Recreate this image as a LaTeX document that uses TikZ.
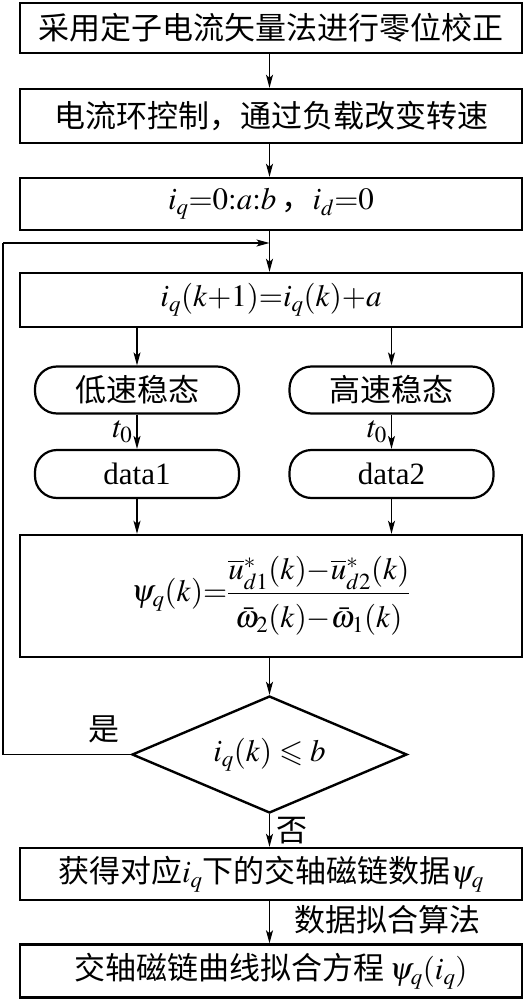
\documentclass[tikz,border=0pt]{standalone}
\usepackage{amsmath,amssymb}
\usepackage{mathptmx}
\usepackage{fontspec}
\setmainfont{Liberation Serif}
\newfontfamily\cjk{Noto Sans CJK SC}
\usetikzlibrary{shapes.geometric,arrows.meta}
\tikzset{
  box/.style={draw, line width=2.4pt, minimum width=502pt, inner sep=0pt, font=\fontsize{31}{36}\selectfont},
  pill/.style={draw, line width=2.2pt, minimum width=204pt, minimum height=47pt, rounded corners=22pt, inner sep=0pt, font=\fontsize{31}{36}\selectfont},
  dec/.style={draw, diamond, line width=2.4pt, minimum width=275pt, minimum height=117pt, aspect=2.35, inner sep=0pt, font=\fontsize{31}{36}\selectfont},
  arr/.style={line width=1.3pt, -{Stealth[length=13pt,width=7pt,inset=3pt]}},
  lbl/.style={font=\fontsize{31}{36}\selectfont, inner sep=0pt}
}
\begin{document}
\begin{tikzpicture}[x=1pt,y=-1pt]
\useasboundingbox (0,0) rectangle (526,1000);
\node[box, minimum height=50pt] (b1) at (271,28) {\cjk 采用定子电流矢量法进行零位校正};
\node[box, minimum height=54pt] (b2) at (271,116) {\cjk 电流环控制，通过负载改变转速};
\node[box, minimum height=52pt] (b3) at (271,204) {$i_q{=}0{:}a{:}b$\,{\cjk ，}$i_d{=}0$};
\node[box, minimum height=54pt] (b4) at (271,300) {$i_q(k{+}1){=}i_q(k){+}a$};
\node[pill] (r1) at (137,390) {\cjk 低速稳态};
\node[pill] (r2) at (391.5,390) {\cjk 高速稳态};
\node[pill, minimum height=48pt] (d1) at (137,474) {data1};
\node[pill, minimum height=48pt] (d2) at (391.5,474) {data2};
\node[box, minimum height=122pt] (f) at (271,596) {$\psi_q(k){=}\dfrac{\rule[-8pt]{0pt}{8pt}\overline{u}^*_{d1}(k){-}\overline{u}^*_{d2}(k)}{\rule{0pt}{30pt}\bar{\omega}_2(k){-}\bar{\omega}_1(k)}$};
\node[dec] (c) at (269.5,754.5) {$i_q(k)\leqslant b$};
\node[box, minimum height=52pt] (b9) at (271,874) {{\cjk 获得对应}$i_q${\cjk 下的交轴磁链数据}$\psi_q$};
\node[box, minimum height=53pt] (b10) at (271,971) {{\cjk 交轴磁链曲线拟合方程}\,$\psi_q(i_q)$};
\coordinate (j) at (269.5,243);
\coordinate (lc) at (3,754.5);
\coordinate (lt) at (3,243);
\draw[arr] (b1.south -| j) -- (b2.north -| j);
\draw[arr] (b2.south -| j) -- (b3.north -| j);
\draw[arr] (b3.south -| j) -- (b4.north -| j);
\draw[line width=1.3pt] (c.west) -- (lc) -- (lt);
\draw[arr] (lt) -- (j);
\draw[arr] (b4.south -| r1) -- (r1.north);
\draw[arr] (b4.south -| r2) -- (r2.north);
\draw[arr] (r1.south) -- (d1.north) node[lbl, pos=0.5, left=4pt] {$t_0$};
\draw[arr] (r2.south) -- (d2.north) node[lbl, pos=0.5, left=4pt] {$t_0$};
\draw[arr] (d1.south) -- (f.north -| d1);
\draw[arr] (d2.south) -- (f.north -| d2);
\draw[arr] (f.south -| c) -- (c.north);
\draw[arr] (c.south) -- (b9.north -| c) node[lbl, pos=0.5, right=6pt] {\cjk 否};
\draw[arr] (b9.south -| c) -- (b10.north -| c) node[lbl, pos=0.45, right=24pt, anchor=west] {\cjk 数据拟合算法};
\node[lbl] (yes) at (104,729) {\cjk 是};
\end{tikzpicture}
\end{document}
